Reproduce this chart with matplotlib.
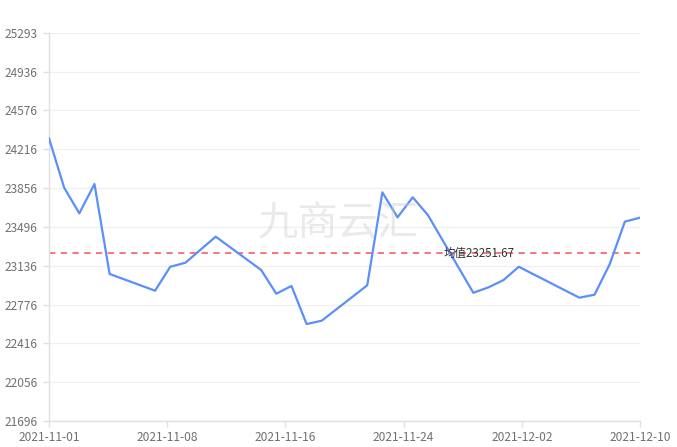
import numpy as np
import matplotlib
matplotlib.use("Agg")
import matplotlib.pyplot as plt

plt.rcParams['font.family'] = ['Noto Sans CJK SC', 'DejaVu Sans']

# 交易日（距 2021-11-01 的天数）及收盘价
day_offsets = [0, 1, 2, 3, 4, 7, 8, 9, 11, 14, 15, 16, 17, 18,
               21, 22, 23, 24, 25, 28, 29, 30, 31, 35, 36, 37, 38, 39]
prices = [24317, 23859, 23621, 23893, 23059, 22904, 23126, 23163, 23405,
          23096, 22876, 22948, 22595, 22626, 22954, 23816, 23584, 23770,
          23606, 22885, 22935, 23003, 23126, 22839, 22867, 23149, 23544, 23581]
mean_value = 23251.67

x_tick_labels = ['2021-11-01', '2021-11-08', '2021-11-16',
                 '2021-11-24', '2021-12-02', '2021-12-10']
y_ticks = [21696, 22056, 22416, 22776, 23136, 23496, 23856,
           24216, 24576, 24936, 25293]

fig = plt.figure(figsize=(6.77, 4.47), dpi=100)
ax = fig.add_axes([49 / 677, 1 - 421 / 447, 591 / 677, 388 / 447])

ax.plot(day_offsets, prices, color='#5b8ff9', linewidth=1.6, zorder=3)

# 均值线
ax.axhline(mean_value, color='#f26d6d', linestyle=(0, (3.5, 3)),
           linewidth=1.3, zorder=2)
ax.text(28.4, mean_value, f'均值{mean_value:.2f}', fontsize=8.3,
        color='#333333', ha='center', va='center', zorder=4)

# 水印
ax.text(0.49, 0.51, '九商云汇', transform=ax.transAxes, fontsize=29,
        color='#cccccc', alpha=0.4, ha='center', va='center', zorder=5)

ax.set_xlim(0, 39)
ax.set_ylim(y_ticks[0], y_ticks[-1])
ax.set_xticks(np.linspace(0, 39, len(x_tick_labels)))
ax.set_xticklabels(x_tick_labels)
ax.set_yticks(y_ticks)

ax.grid(axis='y', color='#f0f0f0', linewidth=1)
ax.set_axisbelow(True)
for side in ['top', 'right']:
    ax.spines[side].set_visible(False)
for side in ['left', 'bottom']:
    ax.spines[side].set_color('#e0e0e0')
    ax.spines[side].set_linewidth(1)
ax.tick_params(axis='both', colors='#e0e0e0', labelcolor='#707070',
               labelsize=8.6, length=4, width=1)
ax.tick_params(axis='y', pad=4)
ax.tick_params(axis='x', pad=3)

fig.savefig('out.png', dpi=100)
